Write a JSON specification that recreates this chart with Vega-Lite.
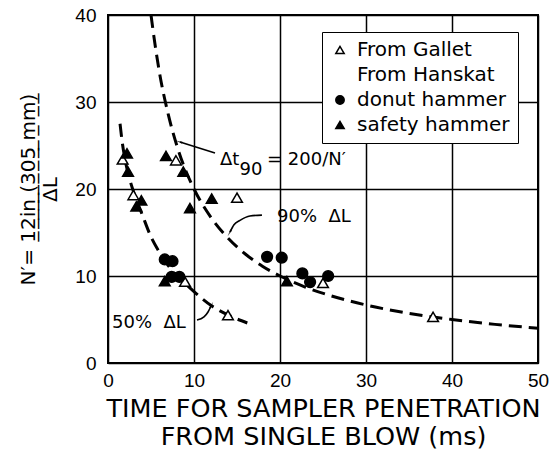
{
  "$schema": "https://vega.github.io/schema/vega-lite/v6.json",
  "width": 430,
  "height": 348,
  "autosize": {"type": "none"},
  "padding": {"left": 108, "top": 15, "right": 12, "bottom": 97},
  "background": "white",
  "config": {
    "font": "DejaVu Sans",
    "view": {"stroke": "black", "strokeWidth": 2},
    "axis": {
      "grid": true, "gridColor": "black", "gridWidth": 1.5, "gridOpacity": 1,
      "domain": false, "ticks": false,
      "labelFont": "Liberation Sans", "labelFontSize": 19, "labelColor": "black", "labelFlush": false,
      "titleFont": "DejaVu Sans", "titleFontWeight": "normal", "titleColor": "black"
    }
  },
  "datasets": {
    "curves": [
      {"curve": "90%", "x": 5, "y": 40},
      {"curve": "90%", "x": 5.5, "y": 36.4},
      {"curve": "90%", "x": 6, "y": 33.3},
      {"curve": "90%", "x": 7, "y": 28.6},
      {"curve": "90%", "x": 8, "y": 25},
      {"curve": "90%", "x": 9, "y": 22.2},
      {"curve": "90%", "x": 10, "y": 20},
      {"curve": "90%", "x": 12, "y": 16.7},
      {"curve": "90%", "x": 14, "y": 14.3},
      {"curve": "90%", "x": 16, "y": 12.5},
      {"curve": "90%", "x": 18, "y": 11.1},
      {"curve": "90%", "x": 20, "y": 10},
      {"curve": "90%", "x": 23, "y": 8.7},
      {"curve": "90%", "x": 26, "y": 7.7},
      {"curve": "90%", "x": 30, "y": 6.67},
      {"curve": "90%", "x": 35, "y": 5.71},
      {"curve": "90%", "x": 40, "y": 5},
      {"curve": "90%", "x": 45, "y": 4.44},
      {"curve": "90%", "x": 50, "y": 4},
      {"curve": "50%", "x": 1.4, "y": 27.5},
      {"curve": "50%", "x": 1.6, "y": 25.8},
      {"curve": "50%", "x": 2.0, "y": 23.3},
      {"curve": "50%", "x": 2.5, "y": 21.2},
      {"curve": "50%", "x": 3, "y": 19.6},
      {"curve": "50%", "x": 4, "y": 17.0},
      {"curve": "50%", "x": 5, "y": 14.5},
      {"curve": "50%", "x": 6, "y": 12.7},
      {"curve": "50%", "x": 7, "y": 11.2},
      {"curve": "50%", "x": 8, "y": 10.0},
      {"curve": "50%", "x": 9, "y": 9.1},
      {"curve": "50%", "x": 10, "y": 8.2},
      {"curve": "50%", "x": 12, "y": 6.6},
      {"curve": "50%", "x": 14, "y": 5.5},
      {"curve": "50%", "x": 16.2, "y": 4.6}
    ],
    "arrows": [
      {"arrow": "a", "order": 1, "x": 12.44, "y": 24.14},
      {"arrow": "a", "order": 2, "x": 8.37, "y": 25.4},
      {"arrow": "b", "order": 1, "x": 17.9, "y": 17.0},
      {"arrow": "b", "order": 2, "x": 16.5, "y": 16.9},
      {"arrow": "b", "order": 3, "x": 15.35, "y": 16.4},
      {"arrow": "b", "order": 4, "x": 14.65, "y": 15.9},
      {"arrow": "b", "order": 5, "x": 14.19, "y": 15.06},
      {"arrow": "c", "order": 1, "x": 10.35, "y": 4.94},
      {"arrow": "c", "order": 2, "x": 11.16, "y": 5.29},
      {"arrow": "c", "order": 3, "x": 11.63, "y": 5.86},
      {"arrow": "c", "order": 4, "x": 11.98, "y": 6.55}
    ],
    "points": [
      {"source": "From Gallet", "x": 1.7, "y": 23.4},
      {"source": "From Gallet", "x": 2.95, "y": 19.3},
      {"source": "From Gallet", "x": 7.9, "y": 23.3},
      {"source": "From Gallet", "x": 15.0, "y": 19.0},
      {"source": "From Gallet", "x": 8.95, "y": 9.35},
      {"source": "From Gallet", "x": 13.95, "y": 5.5},
      {"source": "From Gallet", "x": 25.0, "y": 9.2},
      {"source": "From Gallet", "x": 37.8, "y": 5.3},
      {"source": "safety hammer", "x": 2.21, "y": 24.1},
      {"source": "safety hammer", "x": 2.33, "y": 22.0},
      {"source": "safety hammer", "x": 3.88, "y": 18.7},
      {"source": "safety hammer", "x": 3.29, "y": 18.0},
      {"source": "safety hammer", "x": 6.74, "y": 23.8},
      {"source": "safety hammer", "x": 8.76, "y": 22.0},
      {"source": "safety hammer", "x": 12.06, "y": 18.9},
      {"source": "safety hammer", "x": 9.53, "y": 17.8},
      {"source": "safety hammer", "x": 6.6, "y": 9.4},
      {"source": "safety hammer", "x": 20.8, "y": 9.4},
      {"source": "donut hammer", "x": 6.6, "y": 11.9},
      {"source": "donut hammer", "x": 7.5, "y": 11.7},
      {"source": "donut hammer", "x": 7.4, "y": 9.9},
      {"source": "donut hammer", "x": 8.3, "y": 9.9},
      {"source": "donut hammer", "x": 18.5, "y": 12.2},
      {"source": "donut hammer", "x": 20.2, "y": 12.1},
      {"source": "donut hammer", "x": 22.6, "y": 10.3},
      {"source": "donut hammer", "x": 23.5, "y": 9.3},
      {"source": "donut hammer", "x": 25.6, "y": 10.0}
    ]
  },
  "layer": [
    {
      "data": {"name": "curves"},
      "mark": {"type": "line", "color": "black", "strokeWidth": 3, "strokeDash": [13, 7], "interpolate": "monotone"},
      "encoding": {
        "x": {
          "field": "x", "type": "quantitative",
          "scale": {"domain": [0, 50], "nice": false, "zero": false},
          "axis": {
            "values": [0, 10, 20, 30, 40, 50],
            "title": ["TIME FOR SAMPLER PENETRATION", "FROM SINGLE BLOW (ms)"],
            "labelPadding": 8,
            "titleFontSize": 25.5, "titlePadding": 6, "titleLineHeight": 28
          }
        },
        "y": {
          "field": "y", "type": "quantitative",
          "scale": {"domain": [0, 40], "nice": false, "zero": false},
          "axis": {
            "values": [0, 10, 20, 30, 40],
            "title": ["N\u2032= 1\u03322\u0332i\u0332n\u0332 \u0332(\u03323\u03320\u03325\u0332 \u0332m\u0332m\u0332)\u0332\u00a0\u00a0", "\u00a0\u00a0ΔL"],
            "labelPadding": 12,
            "titleFontSize": 20, "titlePadding": 14, "titleLineHeight": 22
          }
        },
        "detail": {"field": "curve"}
      }
    },
    {
      "data": {"name": "arrows"},
      "mark": {"type": "line", "color": "black", "strokeWidth": 1.6, "interpolate": "monotone"},
      "encoding": {
        "x": {"field": "x", "type": "quantitative"},
        "y": {"field": "y", "type": "quantitative"},
        "detail": {"field": "arrow"},
        "order": {"field": "order"}
      }
    },
    {
      "data": {"values": [{}]},
      "mark": {"type": "point", "shape": "wedge", "filled": true, "color": "black", "size": 70, "angle": 289},
      "encoding": {"x": {"datum": 8.37, "type": "quantitative"}, "y": {"datum": 25.4, "type": "quantitative"}}
    },
    {
      "data": {"values": [{}]},
      "mark": {"type": "point", "shape": "wedge", "filled": true, "color": "black", "size": 70, "angle": 210},
      "encoding": {"x": {"datum": 14.19, "type": "quantitative"}, "y": {"datum": 15.06, "type": "quantitative"}}
    },
    {
      "data": {"values": [{}]},
      "mark": {"type": "point", "shape": "wedge", "filled": true, "color": "black", "size": 70, "angle": 27},
      "encoding": {"x": {"datum": 11.98, "type": "quantitative"}, "y": {"datum": 6.55, "type": "quantitative"}}
    },
    {
      "data": {"name": "points"},
      "mark": {"type": "point", "filled": true, "size": 115, "strokeWidth": 1.5, "opacity": 1},
      "encoding": {
        "x": {"field": "x", "type": "quantitative"},
        "y": {"field": "y", "type": "quantitative"},
        "shape": {
          "field": "source", "type": "nominal",
          "scale": {"domain": ["From Gallet", "From Hanskat", "donut hammer", "safety hammer"], "range": ["triangle-up", "M0,0", "circle", "triangle-up"]},
          "legend": {"title": null, "orient": "none", "legendX": 214, "legendY": 17, "strokeColor": "black", "fillColor": "white", "padding": 8, "labelFont": "DejaVu Sans", "labelFontSize": 20, "labelColor": "black", "symbolSize": 70, "symbolStrokeWidth": 1.5, "rowPadding": 5, "labelOffset": 7}
        },
        "fill": {
          "field": "source", "type": "nominal",
          "scale": {"domain": ["From Gallet", "From Hanskat", "donut hammer", "safety hammer"], "range": ["white", "transparent", "black", "black"]},
          "legend": {"title": null, "orient": "none", "legendX": 214, "legendY": 17, "strokeColor": "black", "fillColor": "white", "padding": 8, "labelFont": "DejaVu Sans", "labelFontSize": 20, "labelColor": "black", "symbolSize": 70, "symbolStrokeWidth": 1.5, "rowPadding": 5, "labelOffset": 7}
        },
        "stroke": {
          "field": "source", "type": "nominal",
          "scale": {"domain": ["From Gallet", "From Hanskat", "donut hammer", "safety hammer"], "range": ["black", "transparent", "black", "black"]},
          "legend": {"title": null, "orient": "none", "legendX": 214, "legendY": 17, "strokeColor": "black", "fillColor": "white", "padding": 8, "labelFont": "DejaVu Sans", "labelFontSize": 20, "labelColor": "black", "symbolSize": 70, "symbolStrokeWidth": 1.5, "rowPadding": 5, "labelOffset": 7}
        }
      }
    },
    {
      "data": {"values": [{}]},
      "mark": {"type": "text", "text": "Δt", "align": "left", "baseline": "alphabetic", "fontSize": 18, "color": "black"},
      "encoding": {"x": {"datum": 13.02, "type": "quantitative"}, "y": {"datum": 22.76, "type": "quantitative"}}
    },
    {
      "data": {"values": [{}]},
      "mark": {"type": "text", "text": "90", "align": "left", "baseline": "alphabetic", "fontSize": 18, "color": "black", "dx": 19.5, "dy": 10},
      "encoding": {"x": {"datum": 13.02, "type": "quantitative"}, "y": {"datum": 22.76, "type": "quantitative"}}
    },
    {
      "data": {"values": [{}]},
      "mark": {"type": "text", "text": "= 200/N\u2032", "align": "left", "baseline": "alphabetic", "fontSize": 18, "color": "black", "dx": 47},
      "encoding": {"x": {"datum": 13.02, "type": "quantitative"}, "y": {"datum": 22.76, "type": "quantitative"}}
    },
    {
      "data": {"values": [{}]},
      "mark": {"type": "text", "text": "90%\u00a0\u00a0ΔL", "align": "left", "baseline": "alphabetic", "fontSize": 18, "color": "black"},
      "encoding": {"x": {"datum": 19.65, "type": "quantitative"}, "y": {"datum": 16.2, "type": "quantitative"}}
    },
    {
      "data": {"values": [{}]},
      "mark": {"type": "text", "text": "50%\u00a0\u00a0ΔL", "align": "left", "baseline": "alphabetic", "fontSize": 18, "color": "black"},
      "encoding": {"x": {"datum": 0.47, "type": "quantitative"}, "y": {"datum": 4.02, "type": "quantitative"}}
    }
  ]
}
